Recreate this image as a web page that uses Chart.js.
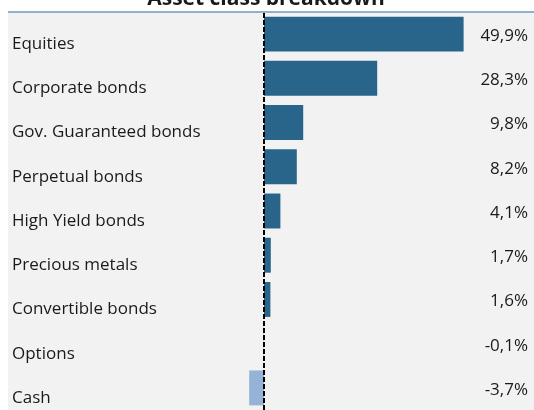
<!DOCTYPE html>
<html>
<head>
<meta charset="utf-8">
<script src="https://cdn.jsdelivr.net/npm/chart.js"></script>
<style>
  html, body { margin: 0; padding: 0; background: #ffffff; }
  #wrap { width: 534px; height: 410px; position: relative; }
</style>
</head>
<body>
<div id="wrap"><canvas id="assetChart"></canvas></div>
<script>
// Chart data
const categories = ['Equities', 'Corporate bonds', 'Gov. Guaranteed bonds', 'Perpetual bonds',
    'High Yield bonds', 'Precious metals', 'Convertible bonds', 'Options', 'Cash'];
const weights = [49.9, 28.3, 9.8, 8.2, 4.1, 1.7, 1.6, -0.1, -3.7];
const chartTitle = 'Asset class breakdown';

// Colors
const colors = {
    positive: '#29648a',
    negative: '#95b3d7',
    panel: '#f2f2f2',
    topLine: '#8fb2c9',
    text: '#1a1a1a'
};

const fontFamily = '"Open Sans", "Noto Sans", sans-serif';

// Gray panel, top rule, zero line, labels and title
const decorPlugin = {
    id: 'decor',
    beforeDraw(chart) {
        const ctx = chart.ctx;
        const area = chart.chartArea;
        ctx.save();
        ctx.fillStyle = colors.panel;
        ctx.fillRect(area.left, area.top + 1, area.right - area.left, chart.height - area.top);
        ctx.strokeStyle = colors.topLine;
        ctx.lineWidth = 2;
        ctx.beginPath();
        ctx.moveTo(area.left, area.top);
        ctx.lineTo(area.right, area.top);
        ctx.stroke();
        ctx.restore();
    },
    afterDatasetsDraw(chart) {
        const ctx = chart.ctx;
        const area = chart.chartArea;
        const x = chart.scales.x;
        const y = chart.scales.y;
        ctx.save();

        // dashed zero line
        const zeroX = Math.round(x.getPixelForValue(0)) - 1;
        ctx.fillStyle = '#000000';
        for (let yy = area.top + 1; yy < chart.height; yy += 7) {
            ctx.fillRect(zeroX, yy, 2, 5);
        }

        // category labels and values
        ctx.font = '17px ' + fontFamily;
        ctx.fillStyle = colors.text;
        ctx.textBaseline = 'middle';
        categories.forEach((name, i) => {
            const cy = y.getPixelForValue(i);
            ctx.textAlign = 'left';
            ctx.fillText(name, area.left + 4, cy + 10);
            ctx.textAlign = 'right';
            ctx.fillText(weights[i].toFixed(1).replace('.', ',') + '%', area.right - 6, cy + 2);
        });

        // title, cut off at the top like the original
        ctx.font = 'bold 21px ' + fontFamily;
        ctx.textAlign = 'center';
        ctx.textBaseline = 'alphabetic';
        ctx.fillText(chartTitle, 266, 5);
        ctx.restore();
    }
};

new Chart(document.getElementById('assetChart'), {
    type: 'bar',
    data: {
        labels: categories,
        datasets: [{
            data: weights,
            backgroundColor: weights.map(v => v < 0 ? colors.negative : colors.positive),
            borderWidth: 0,
            barPercentage: 0.79,
            categoryPercentage: 1
        }]
    },
    options: {
        indexAxis: 'y',
        responsive: true,
        maintainAspectRatio: false,
        animation: false,
        layout: { padding: { left: 8, top: 12, right: 0, bottom: 0 } },
        plugins: {
            legend: { display: false },
            tooltip: { enabled: false },
            title: { display: false }
        },
        scales: {
            x: {
                min: -64,
                max: 67.5,
                display: false,
                grid: { display: false }
            },
            y: {
                display: false,
                grid: { display: false }
            }
        }
    },
    plugins: [decorPlugin]
});
</script>
</body>
</html>
